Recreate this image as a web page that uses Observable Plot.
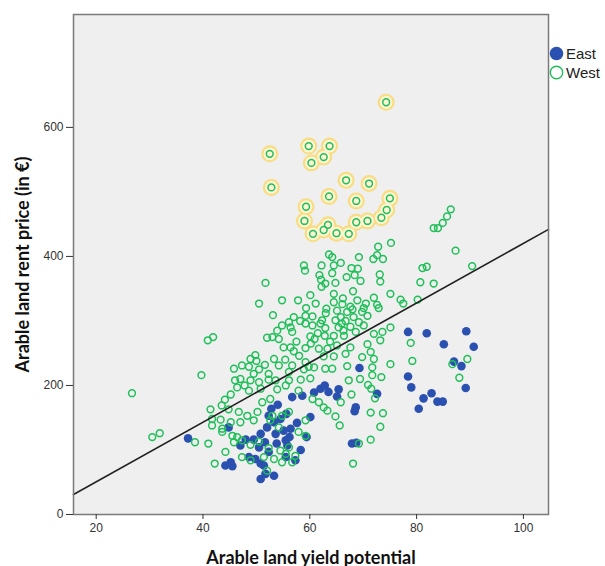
<!DOCTYPE html>
<html><head><meta charset="utf-8">
<script src="https://cdn.jsdelivr.net/npm/d3@7"></script>
<script src="https://cdn.jsdelivr.net/npm/@observablehq/plot@0.6"></script>
<style>
body{margin:0;background:#fff;}
#wrap{position:relative;width:605px;height:566px;}
#legend{position:absolute;left:549px;top:43.5px;font:15px "Liberation Sans",Arial,sans-serif;color:#222;}
#legend .item{display:flex;align-items:center;height:19.4px;}
#legend svg{display:block;margin-right:2px;}
</style></head><body><div id="wrap"><div id="legend"></div></div>
<script>
const xTicks = [20, 40, 60, 80, 100];
const yTicks = [0, 200, 400, 600];
const xDomain = [15.75, 104.7];
const yDomain = [0, 775];
const fitCoef = [-41.8, 4.62]; // intercept, slope
const groups = ["East", "West"];
const groupColors = ["#2a50b0", "#1fbf59"];
const xTitle = "Arable land yield potential";
const yTitle = "Arable land rent price (in €)";

const east = [
[81.9,281],[78.4,283],[89.3,284],[85.1,264],[90.7,260],[87.0,237],[88.4,230],[89.2,196],[82.8,188],[81.3,180],[83.9,175],[84.9,175],[78.4,214],[79.0,197],[80.4,164],
[69.3,227],[65.4,194],[65.1,183],[72.6,187],[68.6,166],[68.4,160],[67.9,110],[68.7,111],
[56.7,182],[58.6,184],[60.8,189],[62.0,195],[62.8,200],[52.8,164],[52.3,153],[53.3,143],[54.5,148],[55.1,130],[53.6,125],[56.4,133],[60.1,151],[52.0,135],[50.8,125],[49.5,116],[48.0,116],[47.0,107],[50.5,104],[52.3,97],[55.5,115],[55.8,107],[55.5,89],[57.3,84],[49.8,86],[50.8,79],[51.4,76],[53.3,60],[50.8,55],[51.7,63],[48.6,89],
[37.2,118],[44.8,135],[44.2,76],[45.2,81],[45.5,75],
[54.0,170],[55.6,156],[57.6,142],[59.4,120],[51.6,112],[53.8,110],[56.2,120],[58.3,100],[63.5,190]
];

const west = [
[86.4,473],[85.7,462],[84.9,452],[84.0,444],[83.2,444],[87.3,409],[81.9,384],[81.1,382],[90.4,385],[83.2,358],[80.7,360],[89.5,241],[86.7,233],[88.0,212],
[64.2,226],[67.0,230],[69.4,210],[71.7,216],[73.4,213],[67.3,208],[70.9,201],[71.5,195],[67.8,186],[65.8,174],[72.2,180],[64.8,152],[65.6,138],[71.4,158],[73.7,157],[73.2,136],[69.2,110],[71.4,116],[68.1,79],[71.7,228],[75.1,233],
[75.2,421],[72.8,415],[71.9,396],[72.6,402],[73.7,396],[69.2,399],[64.2,399],[65.8,390],[64.5,386],[67.8,382],[69.0,381],[64.2,374],[66.9,368],[68.4,371],[69.5,362],[73.1,372],[73.2,361],[64.8,359],[68.1,346],[75.1,342],[72.0,336],[77.0,333],[77.5,327],[80.2,333],[64.5,342],[64.5,329],[66.1,326],[68.9,332],[72.6,325],[72.9,320],[67.6,322],[70.1,320],[65.1,316],[67.0,314],[69.8,314],[70.8,308],[65.8,306],[68.2,306],[64.8,301],[66.7,300],[69.2,298],[65.4,290],[67.6,291],[70.1,293],[75.1,290],[68.6,283],[64.5,277],[66.4,277],[72.0,280],[73.6,283],[70.8,264],[73.2,270],[65.1,262],[67.6,259],[78.9,266],[71.4,252],[66.7,249],[64.5,245],[69.8,244],[72.0,241],[79.2,238],
[63.6,403],[58.9,386],[59.1,378],[62.2,386],[61.8,371],[62.1,364],[62.9,358],[62.2,353],[51.7,359],[50.5,327],[54.8,332],[57.8,332],[60.1,340],[61.1,327],[59.3,320],[63.1,319],[53.1,309],[57.0,306],[59.2,308],[60.5,307],[56.1,298],[62.3,301],[53.9,285],[54.8,293],[56.4,290],[59.2,296],[60.5,293],[62.9,289],[52.0,274],[53.0,275],[54.2,272],[56.7,283],[60.1,276],[60.9,272],[62.8,277],[55.1,259],[56.4,259],[57.0,253],[59.2,258],[61.7,257],[63.3,257],[49.8,247],[48.9,241],[50.0,238],[53.3,241],[47.3,231],[48.6,229],[54.2,231],[56.7,231],[59.2,236],[59.8,229],
[50.5,225],[52.3,218],[56.1,221],[58.9,225],[60.8,228],[62.9,226],[47.0,210],[48.9,208],[50.5,205],[52.3,209],[53.6,208],[56.1,208],[58.3,209],[60.1,211],[46.4,197],[48.6,192],[50.8,195],[52.6,179],[53.9,194],[55.5,200],[57.9,192],[60.5,179],[62.6,166],[63.3,161],[61.7,174],[51.1,174],[46.7,159],[48.3,153],[50.2,159],[53.0,153],[54.8,153],[56.1,159],[47.0,143],[49.5,146],[52.6,146],[59.2,146],[54.2,135],[57.9,128],[59.2,122],[46.4,120],[47.3,115],[48.9,108],[50.5,113],[52.3,103],[54.5,99],[56.1,104],[47.3,89],[48.9,84],[51.4,89],[53.3,86],[55.5,94],[57.3,91],[54.8,81],[56.7,81],[52.0,68],
[26.7,188],[41.4,163],[43.5,169],[44.8,163],[41.7,148],[43.3,147],[41.7,138],[43.6,133],[43.6,128],[45.2,143],[45.5,122],[30.5,120],[31.9,126],[38.5,112],[41.0,110],[44.2,97],[42.2,79],[45.8,112],[40.9,270],[41.9,275],[39.7,216],[45.8,226],[46.0,208],
[63.0,312],[66.2,335],[62.0,296],[58.2,300],[61.5,281],[63.8,268],[66.0,296],[68.0,318],[70.5,327],[57.5,268],[60.2,265],[66.3,285],[62.6,245],[58.0,246],[55.4,240],[51.6,232],[49.5,218],[47.8,200],[45.2,186],[44.1,178]
];

const westHighlighted = [
[74.3,639],[59.8,571],[63.7,571],[52.5,559],[62.6,554],[60.3,545],[52.8,507],[66.8,518],[71.1,513],[63.6,493],[68.7,486],[75.0,490],[59.3,477],[74.4,472],[59.0,455],[73.4,460],[70.8,455],[68.7,453],[63.4,449],[62.6,441],[60.6,435],[65.0,436],[67.3,435]
];

const fitLine = xDomain.map(x => ({x, y: fitCoef[0] + fitCoef[1] * x}));
const X = d => d[0], Y = d => d[1];

const svg = Plot.plot({
  width: 605, height: 566,
  marginLeft: 73, marginRight: 57, marginTop: 14, marginBottom: 52,
  style: {fontFamily: "'Liberation Sans', Arial, sans-serif", fontSize: "12px", background: "#fff"},
  x: {domain: xDomain},
  y: {domain: yDomain},
  marks: [
    Plot.frame({fill: "#efefef"}),
    Plot.dot(westHighlighted, {x: X, y: Y, r: 8.5, fill: "#f7dc80"}),
    Plot.dot(westHighlighted, {x: X, y: Y, r: 6.4, fill: "#fdf4d4"}),
    Plot.dot(east, {x: X, y: Y, r: 4.3, fill: groupColors[0]}),
    Plot.dot(west.concat(westHighlighted), {x: X, y: Y, r: 3.4, stroke: groupColors[1], strokeWidth: 1.5, fill: "none"}),
    Plot.line(fitLine, {x: "x", y: "y", stroke: "#222", strokeWidth: 1.6}),
    Plot.frame({stroke: "#7a7a7a", strokeWidth: 1.5}),
    Plot.axisX({ticks: xTicks, tickSize: 5, tickPadding: 4, color: "#333", label: xTitle, labelAnchor: "center", labelOffset: 49, labelArrow: "none"}),
    Plot.axisY({ticks: yTicks, tickSize: 7, tickPadding: 3, color: "#333", label: yTitle, labelAnchor: "center", labelOffset: 57, labelArrow: "none"})
  ]
});
d3.select(svg).selectAll('[aria-label="x-axis label"] text, [aria-label="y-axis label"] text, g[aria-label="x-axis label"], g[aria-label="y-axis label"]')
  .attr("font-weight", "bold").attr("font-size", 18).attr("font-family", "Lato, 'Liberation Sans', sans-serif").attr("fill", "#111");
document.getElementById("wrap").appendChild(svg);

const legend = d3.select("#legend");
groups.forEach((g, i) => {
  const item = legend.append("div").attr("class", "item");
  const s = item.append("svg").attr("width", 15).attr("height", 15);
  if (i === 0) s.append("circle").attr("cx", 7.5).attr("cy", 7.5).attr("r", 6.8).attr("fill", groupColors[i]);
  else s.append("circle").attr("cx", 7.5).attr("cy", 7.5).attr("r", 6.2).attr("fill", "none").attr("stroke", groupColors[i]).attr("stroke-width", 1.4);
  item.append("span").text(g);
});
</script>
</body></html>
